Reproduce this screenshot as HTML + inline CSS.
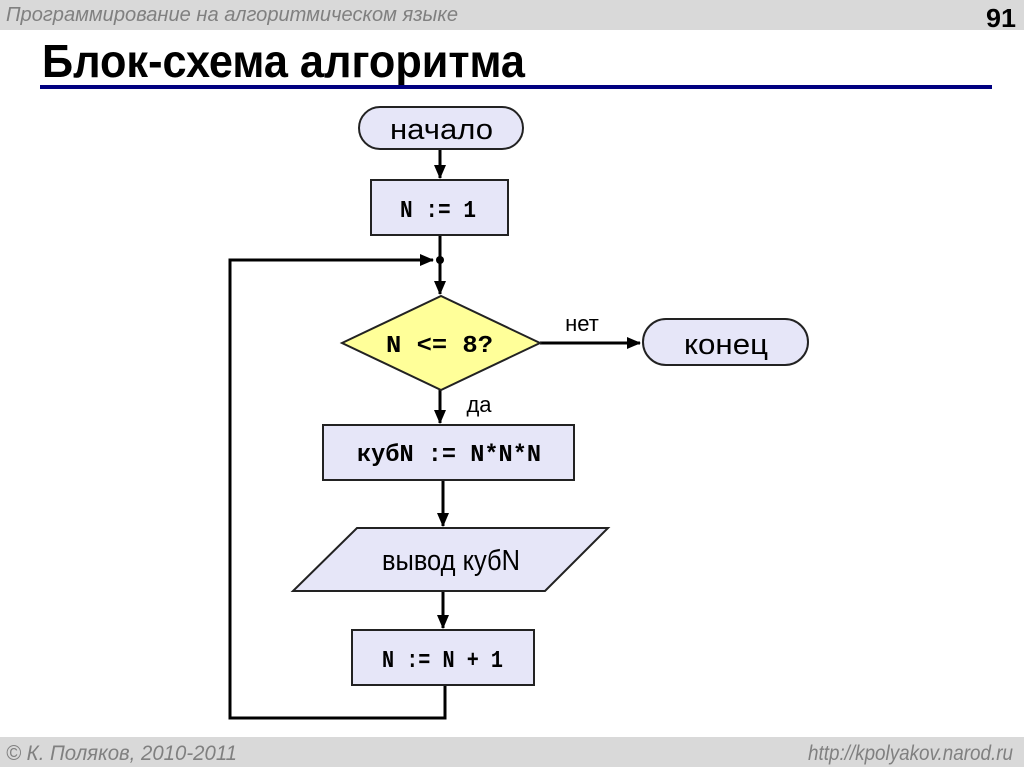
<!DOCTYPE html>
<html><head><meta charset="utf-8"><style>
body{margin:0;width:1024px;height:767px;background:#fff;overflow:hidden;font-family:"Liberation Sans",sans-serif}
</style></head><body>
<svg width="1024" height="767" xmlns="http://www.w3.org/2000/svg" style="position:absolute;left:0;top:0">
<defs><marker id="b" markerWidth="14" markerHeight="14" refX="13" refY="7" orient="auto" markerUnits="userSpaceOnUse"><path d="M0,1 L14,7 L0,13 z" fill="#000"/></marker></defs>
<rect x="0" y="0" width="1024" height="30" fill="#d9d9d9"/>
<text x="6" y="21" font-size="20" font-style="italic" fill="#808080" textLength="452" lengthAdjust="spacingAndGlyphs">Программирование на алгоритмическом языке</text>
<text x="1016" y="27" font-size="26" font-weight="bold" text-anchor="end" fill="#000" textLength="30" lengthAdjust="spacingAndGlyphs">91</text>
<text x="42" y="77" font-size="46" font-weight="bold" fill="#000" textLength="483" lengthAdjust="spacingAndGlyphs">Блок-схема алгоритма</text>
<rect x="40" y="85" width="952" height="4" fill="#000080"/>
<rect x="0" y="737" width="1024" height="30" fill="#d9d9d9"/>
<text x="6" y="760" font-size="21" font-style="italic" fill="#808080" textLength="231" lengthAdjust="spacingAndGlyphs">© К. Поляков, 2010-2011</text>
<text x="808" y="760" font-size="21" font-style="italic" fill="#808080" textLength="205" lengthAdjust="spacingAndGlyphs">http://kpolyakov.narod.ru</text>
<g stroke="#000" stroke-width="3" fill="none">
<line x1="440" y1="150" x2="440" y2="178" marker-end="url(#b)"/>
<line x1="440" y1="236" x2="440" y2="294" marker-end="url(#b)"/>
<polyline points="445,686 445,718 230,718 230,260 433,260" marker-end="url(#b)"/>
<line x1="540" y1="343" x2="640" y2="343" marker-end="url(#b)"/>
<line x1="440" y1="390" x2="440" y2="423" marker-end="url(#b)"/>
<line x1="443" y1="481" x2="443" y2="526" marker-end="url(#b)"/>
<line x1="443" y1="592" x2="443" y2="628" marker-end="url(#b)"/>
</g>
<circle cx="440" cy="260" r="4" fill="#000"/>
<g stroke="#222" stroke-width="2" fill="#e6e6f8">
<rect x="359" y="107" width="164" height="42" rx="21"/>
<rect x="371" y="180" width="137" height="55"/>
<polygon points="342,343 441,296 540,343 441,390" fill="#ffff99"/>
<rect x="643" y="319" width="165" height="46" rx="23"/>
<rect x="323" y="425" width="251" height="55"/>
<polygon points="357,528 608,528 545,591 293,591"/>
<rect x="352" y="630" width="182" height="55"/>
</g>
<g font-size="29" fill="#000">
<text x="390" y="139" textLength="103" lengthAdjust="spacingAndGlyphs">начало</text>
<text x="684" y="354" textLength="84" lengthAdjust="spacingAndGlyphs">конец</text>
<text x="382" y="570" textLength="138" lengthAdjust="spacingAndGlyphs">вывод кубN</text>
</g>
<g font-family="Liberation Mono" font-weight="bold" font-size="24" fill="#000">
<text x="400" y="217" textLength="76" lengthAdjust="spacingAndGlyphs">N := 1</text>
<text x="386" y="352" textLength="107" lengthAdjust="spacingAndGlyphs">N &lt;= 8?</text>
<text x="357" y="461" textLength="184" lengthAdjust="spacingAndGlyphs">кубN := N*N*N</text>
<text x="382" y="667" textLength="121" lengthAdjust="spacingAndGlyphs">N := N + 1</text>
</g>
<text x="582" y="331" font-size="22" text-anchor="middle">нет</text>
<text x="479" y="412" font-size="22" text-anchor="middle">да</text>
</svg>
</body></html>
